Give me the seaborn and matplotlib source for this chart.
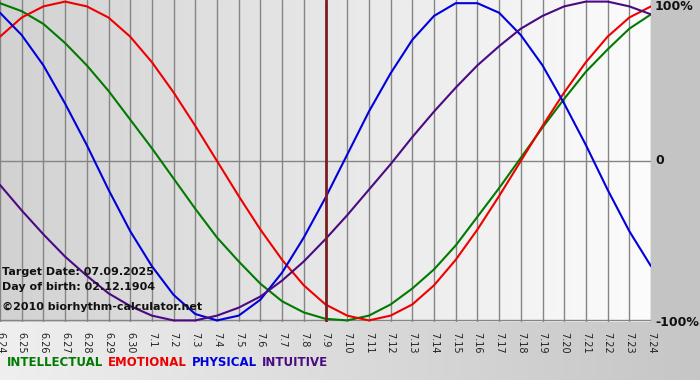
import numpy as np
import pandas as pd
import matplotlib
matplotlib.use("Agg")
import matplotlib.pyplot as plt
import seaborn as sns
from matplotlib.colors import LinearSegmentedColormap

dates = ["6.24", "6.25", "6.26", "6.27", "6.28", "6.29", "6.30",
         "7.1", "7.2", "7.3", "7.4", "7.5", "7.6", "7.7", "7.8", "7.9",
         "7.10", "7.11", "7.12", "7.13", "7.14", "7.15", "7.16", "7.17",
         "7.18", "7.19", "7.20", "7.21", "7.22", "7.23", "7.24"]

physical = [0.93, 0.79, 0.60, 0.36, 0.10, -0.18, -0.44, -0.66, -0.84, -0.96,
            -1.00, -0.97, -0.87, -0.70, -0.48, -0.23, 0.04, 0.31, 0.55, 0.76,
            0.91, 0.99, 0.99, 0.93, 0.79, 0.60, 0.36, 0.10, -0.18, -0.44, -0.66]
emotional = [0.78, 0.90, 0.97, 1.00, 0.97, 0.90, 0.78, 0.62, 0.43, 0.22,
             0.00, -0.22, -0.43, -0.62, -0.78, -0.90, -0.97, -1.00, -0.97, -0.90,
             -0.78, -0.62, -0.43, -0.22, 0.00, 0.22, 0.43, 0.62, 0.78, 0.90, 0.97]
intellectual = [0.99, 0.94, 0.86, 0.74, 0.60, 0.44, 0.26, 0.08, -0.11, -0.30,
                -0.48, -0.63, -0.77, -0.88, -0.95, -0.99, -1.00, -0.97, -0.90, -0.80,
                -0.68, -0.53, -0.35, -0.17, 0.02, 0.21, 0.39, 0.56, 0.70, 0.83, 0.92]
intuitive = [-0.15, -0.31, -0.46, -0.60, -0.72, -0.83, -0.91, -0.97, -1.00, -1.00,
             -0.97, -0.92, -0.85, -0.75, -0.63, -0.49, -0.34, -0.18, -0.02, 0.15,
             0.31, 0.46, 0.60, 0.72, 0.83, 0.91, 0.97, 1.00, 1.00, 0.97, 0.92]

series_names = ["INTELLECTUAL", "EMOTIONAL", "PHYSICAL", "INTUITIVE"]
series_colors = ["#007a00", "#ee0000", "#0000dd", "#4b0a82"]
target_index = 15
y_labels = ["100%", "0", "-100%"]
y_label_pix = [7, 161, 322]

sns.set_theme(style="white")
plt.rcParams['font.family'] = ['DejaVu Sans']

W, H = 700, 380
fig = plt.figure(figsize=(7.0, 3.8), dpi=100)

# figure background gradient
bg = fig.add_axes([0, 0, 1, 1])
bg.set_axis_off()
grad = np.linspace(0, 1, 256).reshape(1, -1)
cm_bg = LinearSegmentedColormap.from_list("bg", ["#efefef", "#c6c6c6"])
bg.imshow(grad, aspect="auto", cmap=cm_bg, extent=[0, 1, 0, 1])
bg.set_xlim(0, 1); bg.set_ylim(0, 1)
bg.add_patch(plt.Rectangle((651 / W, 1 - 322 / H), 1, 1, color="#c4c4c4", zorder=1))

ax = fig.add_axes([0, 1 - 322 / H, 651 / W, 322 / H])
cm_plot = LinearSegmentedColormap.from_list("pl", ["#d2d2d2", "#fcfcfc"])
x = np.arange(len(dates))
ax.imshow(grad, aspect="auto", cmap=cm_plot, extent=[0, len(dates) - 1, -1.01, 1.01],
          zorder=0)

for xi in x:
    ax.axvline(xi, color="#858585", lw=1.0, zorder=1)
ax.axhline(0, color="#858585", lw=1.0, zorder=1)
ax.axhline(-1.0, color="#858585", lw=1.0, zorder=1)

df = pd.DataFrame({
    "day": np.tile(x, 4),
    "value": intellectual + emotional + physical + intuitive,
    "series": np.repeat(series_names, len(dates)),
})
sns.lineplot(data=df, x="day", y="value", hue="series", hue_order=series_names,
             palette=series_colors, linewidth=1.5, legend=False, ax=ax, zorder=3)

ax.axvline(target_index, color="#7a2020", lw=2.0, zorder=4)

ax.set_xlim(0, len(dates) - 1)
ax.set_ylim(-1.01, 1.01)
ax.set_xlabel("")
ax.set_ylabel("")
ax.set_xticks(x)
ax.set_xticklabels(dates, rotation=-90, fontsize=7, color="#222222")
ax.tick_params(axis="x", direction="out", length=5, width=1, color="#858585", pad=2)
ax.set_yticks([])
for s in ax.spines.values():
    s.set_visible(False)

for lab, py in zip(y_labels, y_label_pix):
    fig.text(655 / W, 1 - py / H, lab, fontsize=9, fontweight="bold",
             color="#111111", ha="left", va="center")

info = ["Target Date: 07.09.2025", "Day of birth: 02.12.1904",
        "\u00a92010 biorhythm-calculator.net"]
for txt, py in zip(info, [272, 287, 307]):
    fig.text(2 / W, 1 - py / H, txt, fontsize=8, fontweight="bold",
             color="#111111", ha="left", va="center", zorder=5)

# legend as coloured words
xpos = 7
ypos = 1 - 362 / H
renderer = fig.canvas.get_renderer()
for name, col in zip(series_names, series_colors):
    t = fig.text(xpos / W, ypos, name, fontsize=8.5, fontweight="bold", color=col,
                 ha="left", va="center")
    bb = t.get_window_extent(renderer=renderer)
    xpos += bb.width + 5

fig.savefig("out.png", dpi=100)
